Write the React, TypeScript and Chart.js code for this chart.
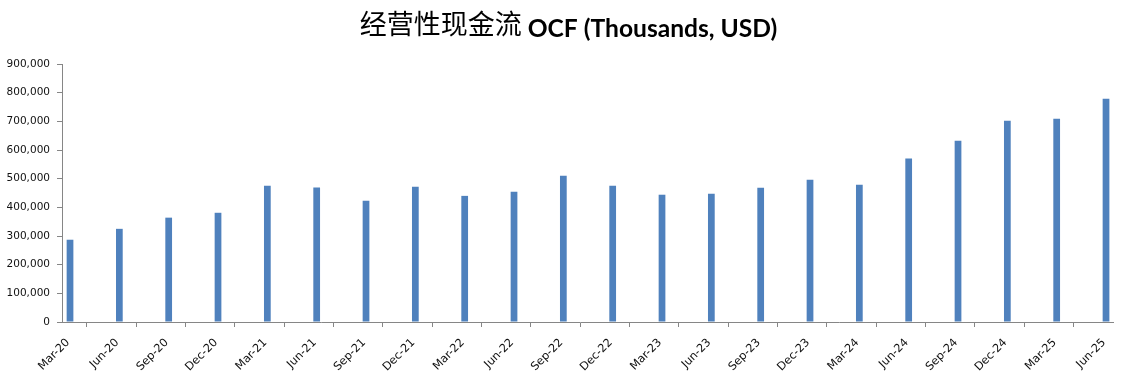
import React, { useEffect, useRef } from "react";
import { Chart, registerables } from "chart.js";

Chart.register(...registerables);

const categories: string[] = [
  "Mar-20", "Jun-20", "Sep-20", "Dec-20",
  "Mar-21", "Jun-21", "Sep-21", "Dec-21",
  "Mar-22", "Jun-22", "Sep-22", "Dec-22",
  "Mar-23", "Jun-23", "Sep-23", "Dec-23",
  "Mar-24", "Jun-24", "Sep-24", "Dec-24",
  "Mar-25", "Jun-25",
];

const ocfValues: number[] = [
  287000, 325000, 364000, 381000,
  475000, 469000, 423000, 472000,
  440000, 454000, 510000, 475000,
  444000, 447000, 468000, 496000,
  479000, 570000, 632000, 702000,
  709000, 779000,
];

const yTicks: number[] = [0, 100000, 200000, 300000, 400000, 500000, 600000, 700000, 800000, 900000];

const titleCJK = "经营性现金流";
const titleLatin = "OCF (Thousands, USD)";

const AXIS_GRAY = "#868686";

const titlePlugin = {
  id: "splitTitle",
  afterDraw(chart: any) {
    const ctx = chart.ctx as CanvasRenderingContext2D;
    ctx.save();
    const cjkFont = "normal 27px 'Noto Sans CJK SC', sans-serif";
    const latinFont = "bold 24.6px Lato, 'DejaVu Sans', sans-serif";
    ctx.font = cjkFont;
    const wCJK = ctx.measureText(titleCJK).width;
    ctx.font = latinFont;
    const wSpace = ctx.measureText(" ").width;
    const wLatin = ctx.measureText(titleLatin).width;
    const total = wCJK + wSpace + wLatin;
    const startX = chart.width / 2 + 6 - total / 2;
    ctx.fillStyle = "#000";
    ctx.textAlign = "left";
    ctx.textBaseline = "alphabetic";
    ctx.font = cjkFont;
    ctx.fillText(titleCJK, startX, 34);
    ctx.font = latinFont;
    ctx.fillText(titleLatin, startX + wCJK + wSpace, 37);
    ctx.restore();
  },
};

// the date axis of the original runs a little past the last quarter tick
const axisTailPlugin = {
  id: "axisTail",
  afterDraw(chart: any) {
    const ctx = chart.ctx as CanvasRenderingContext2D;
    const area = chart.chartArea;
    ctx.save();
    ctx.strokeStyle = AXIS_GRAY;
    ctx.lineWidth = 1;
    ctx.beginPath();
    const y = Math.round(area.bottom) + 0.5;
    ctx.moveTo(area.right, y);
    ctx.lineTo(area.right + 16, y);
    ctx.stroke();
    ctx.restore();
  },
};

export default function App() {
  const canvasRef = useRef<HTMLCanvasElement | null>(null);

  useEffect(() => {
    document.body.style.margin = "0";
    const canvas = canvasRef.current;
    if (!canvas) return;
    const yFont = { family: "'DejaVu Sans', sans-serif", size: 10.5 };
    const xFont = { family: "'DejaVu Sans', sans-serif", size: 11.3 };
    const chart = new Chart(canvas, {
      type: "bar",
      data: {
        labels: categories,
        datasets: [
          {
            label: "spacer",
            data: categories.map(() => null),
            backgroundColor: "rgba(0,0,0,0)",
            categoryPercentage: 0.65,
            barPercentage: 0.42,
          },
          {
            label: "OCF",
            data: ocfValues,
            backgroundColor: "#4F81BD",
            borderWidth: 0,
            categoryPercentage: 0.65,
            barPercentage: 0.42,
            clip: false,
          },
        ],
      },
      options: {
        animation: false,
        responsive: true,
        maintainAspectRatio: false,
        layout: { padding: { left: 0, right: 27, top: 64, bottom: 0 } },
        plugins: {
          legend: { display: false },
          tooltip: { enabled: false },
          title: { display: false },
        },
        scales: {
          x: {
            type: "category",
            offset: false,
            grid: {
              display: true,
              drawOnChartArea: false,
              drawTicks: true,
              tickLength: 5,
              color: AXIS_GRAY,
            },
            border: { display: true, color: AXIS_GRAY, width: 1 },
            ticks: {
              autoSkip: false,
              minRotation: 45,
              maxRotation: 45,
              color: "#111",
              font: xFont,
              padding: 9,
              labelOffset: 6,
            },
            afterFit: (scale: any) => {
              scale.height = 59;
            },
          },
          y: {
            type: "linear",
            min: 0,
            max: 900000,
            afterBuildTicks: (scale: any) => {
              scale.ticks = yTicks.map((v) => ({ value: v }));
            },
            grid: {
              display: true,
              drawOnChartArea: false,
              drawTicks: true,
              tickLength: 5,
              color: AXIS_GRAY,
            },
            border: { display: true, color: AXIS_GRAY, width: 1 },
            ticks: {
              color: "#111",
              font: yFont,
              padding: 7,
              callback: (v: any) => Number(v).toLocaleString("en-US"),
            },
            afterFit: (scale: any) => {
              scale.width = 62;
            },
          },
        },
      },
      plugins: [titlePlugin, axisTailPlugin],
    });
    return () => chart.destroy();
  }, []);

  return (
    <div style={{ width: 1125, height: 381, position: "relative", background: "#fff" }}>
      <canvas ref={canvasRef} role="img" aria-label={`${titleCJK} ${titleLatin}`} />
    </div>
  );
}
